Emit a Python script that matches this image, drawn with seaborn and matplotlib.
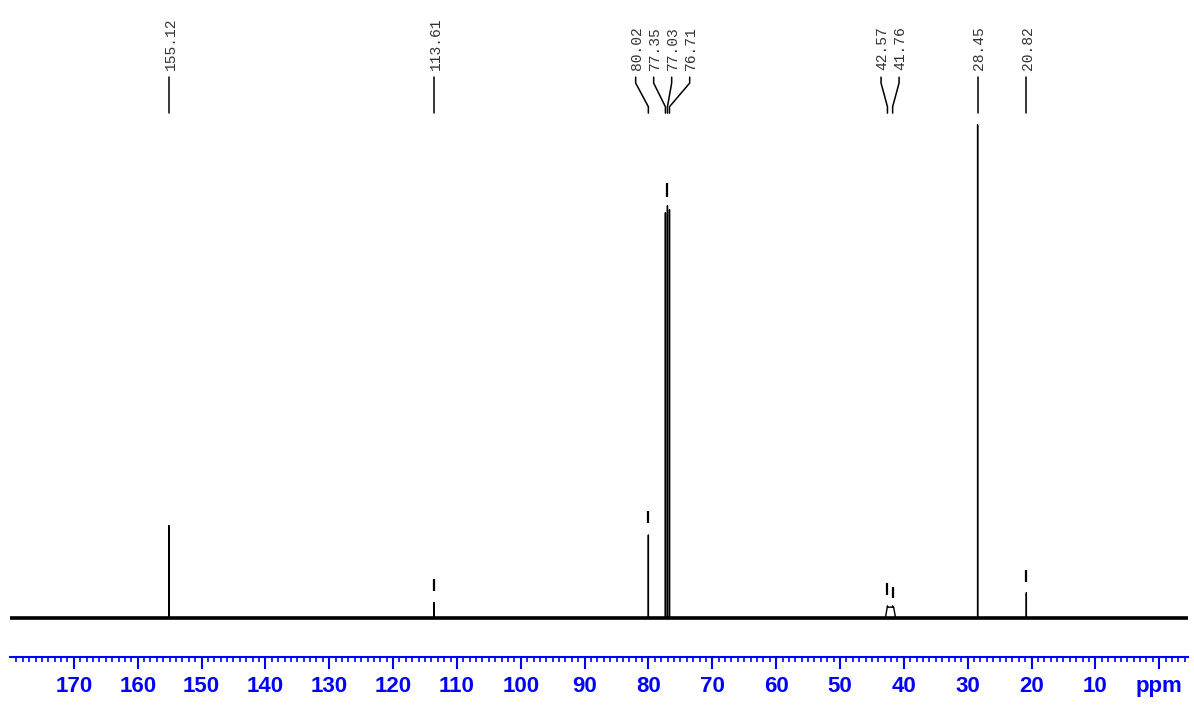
import numpy as np
import pandas as pd
import seaborn as sns
import matplotlib.pyplot as plt

# peak positions (ppm) and heights (relative intensity, tallest = 100)
peak_ppm = [155.12, 113.61, 80.02, 77.35, 77.03, 76.71, 42.57, 41.76, 28.45, 20.82]
peak_int = [18.7, 3.1, 16.8, 82.2, 83.6, 82.8, 2.4, 2.4, 100.0, 5.1]

# broad hump under the 42 ppm pair
hump_ppm = [42.9, 42.6, 41.6, 41.3]
hump_int = [0.0, 2.2, 2.2, 0.0]

# small peak markers above the peaks (ppm, bottom, top)
mark_ppm = [113.61, 80.02, 77.08, 42.57, 41.76, 20.82]
mark_lo = [5.5, 19.3, 85.4, 4.7, 4.1, 7.3]
mark_hi = [7.9, 21.7, 88.2, 7.1, 6.3, 9.7]

# label groups, each drawn as one fan of labels
label_groups = [[155.12], [113.61], [80.02, 77.35, 77.03, 76.71], [42.57, 41.76], [28.45], [20.82]]

major_ticks = [170, 160, 150, 140, 130, 120, 110, 100, 90, 80, 70, 60, 50, 40, 30, 20, 10, 0]
tick_labels = ['170', '160', '150', '140', '130', '120', '110', '100', '90', '80',
               '70', '60', '50', '40', '30', '20', '10', 'ppm']

x_left, x_right = 180.0, -4.5

# build a stick spectrum: baseline -> up to the peak -> back down
xs, ys = [x_left], [0.0]
for p, h in sorted(zip(peak_ppm, peak_int), reverse=True):
    if p == 42.57:
        xs += hump_ppm[:2]
        ys += hump_int[:2]
    xs += [p, p, p]
    ys += [0.0, h, 0.0] if p not in (42.57, 41.76) else [2.2, h, 2.2]
    if p == 41.76:
        xs += hump_ppm[2:]
        ys += hump_int[2:]
xs.append(x_right)
ys.append(0.0)
spec = pd.DataFrame({'ppm': xs, 'intensity': ys})

sns.set_style('white')
fig = plt.figure(figsize=(11.94, 7.05), dpi=100)
ax = fig.add_axes([10 / 1194, 48 / 705, 1178 / 1194, 657 / 705])

# noisy baseline band
sns.lineplot(x=[x_left, x_right], y=[0, 0], color='black', lw=2.6, ax=ax)
sns.lineplot(data=spec, x='ppm', y='intensity', sort=False, estimator=None,
             color='black', lw=1.0, ax=ax)

ax.vlines(mark_ppm, mark_lo, mark_hi, color='black', lw=1.6)

# peak labels with connector legs
spacing = 2.82
for grp in label_groups:
    c = np.mean(grp)
    n = len(grp)
    for i, p in enumerate(sorted(grp, reverse=True)):
        lx = c + (n - 1) / 2 * spacing - i * spacing
        ax.plot([lx, lx, p, p], [109.7, 108.5, 103.7, 102.4], color='black', lw=1.1)
        ax.text(lx - 0.25, 111.2, f'{p:.2f}', rotation=90, ha='center', va='bottom',
                fontsize=10.5, family='Liberation Mono', color='#333333')

ax.set_xlim(x_left, x_right)
ax.set_ylim(-7.91, 125.35)
ax.set_xticks(major_ticks)
ax.set_xticklabels(tick_labels)
ax.set_xticks(np.arange(179, -5, -1), minor=True)
ax.set_yticks([])
ax.set_xlabel('')
ax.set_ylabel('')
for s in ['top', 'left', 'right']:
    ax.spines[s].set_visible(False)
ax.spines['bottom'].set_color('blue')
ax.spines['bottom'].set_linewidth(1.5)
ax.tick_params(axis='x', which='major', length=8.6, width=1.5, color='blue',
               labelcolor='blue', pad=5, direction='out', bottom=True)
ax.tick_params(axis='x', which='minor', length=3.6, width=1.2, color='blue',
               direction='out', bottom=True)
for t in ax.get_xticklabels():
    t.set_fontweight('bold')
    t.set_fontsize(16)
    t.set_family('Liberation Sans')

fig.savefig('out.png', dpi=100)
